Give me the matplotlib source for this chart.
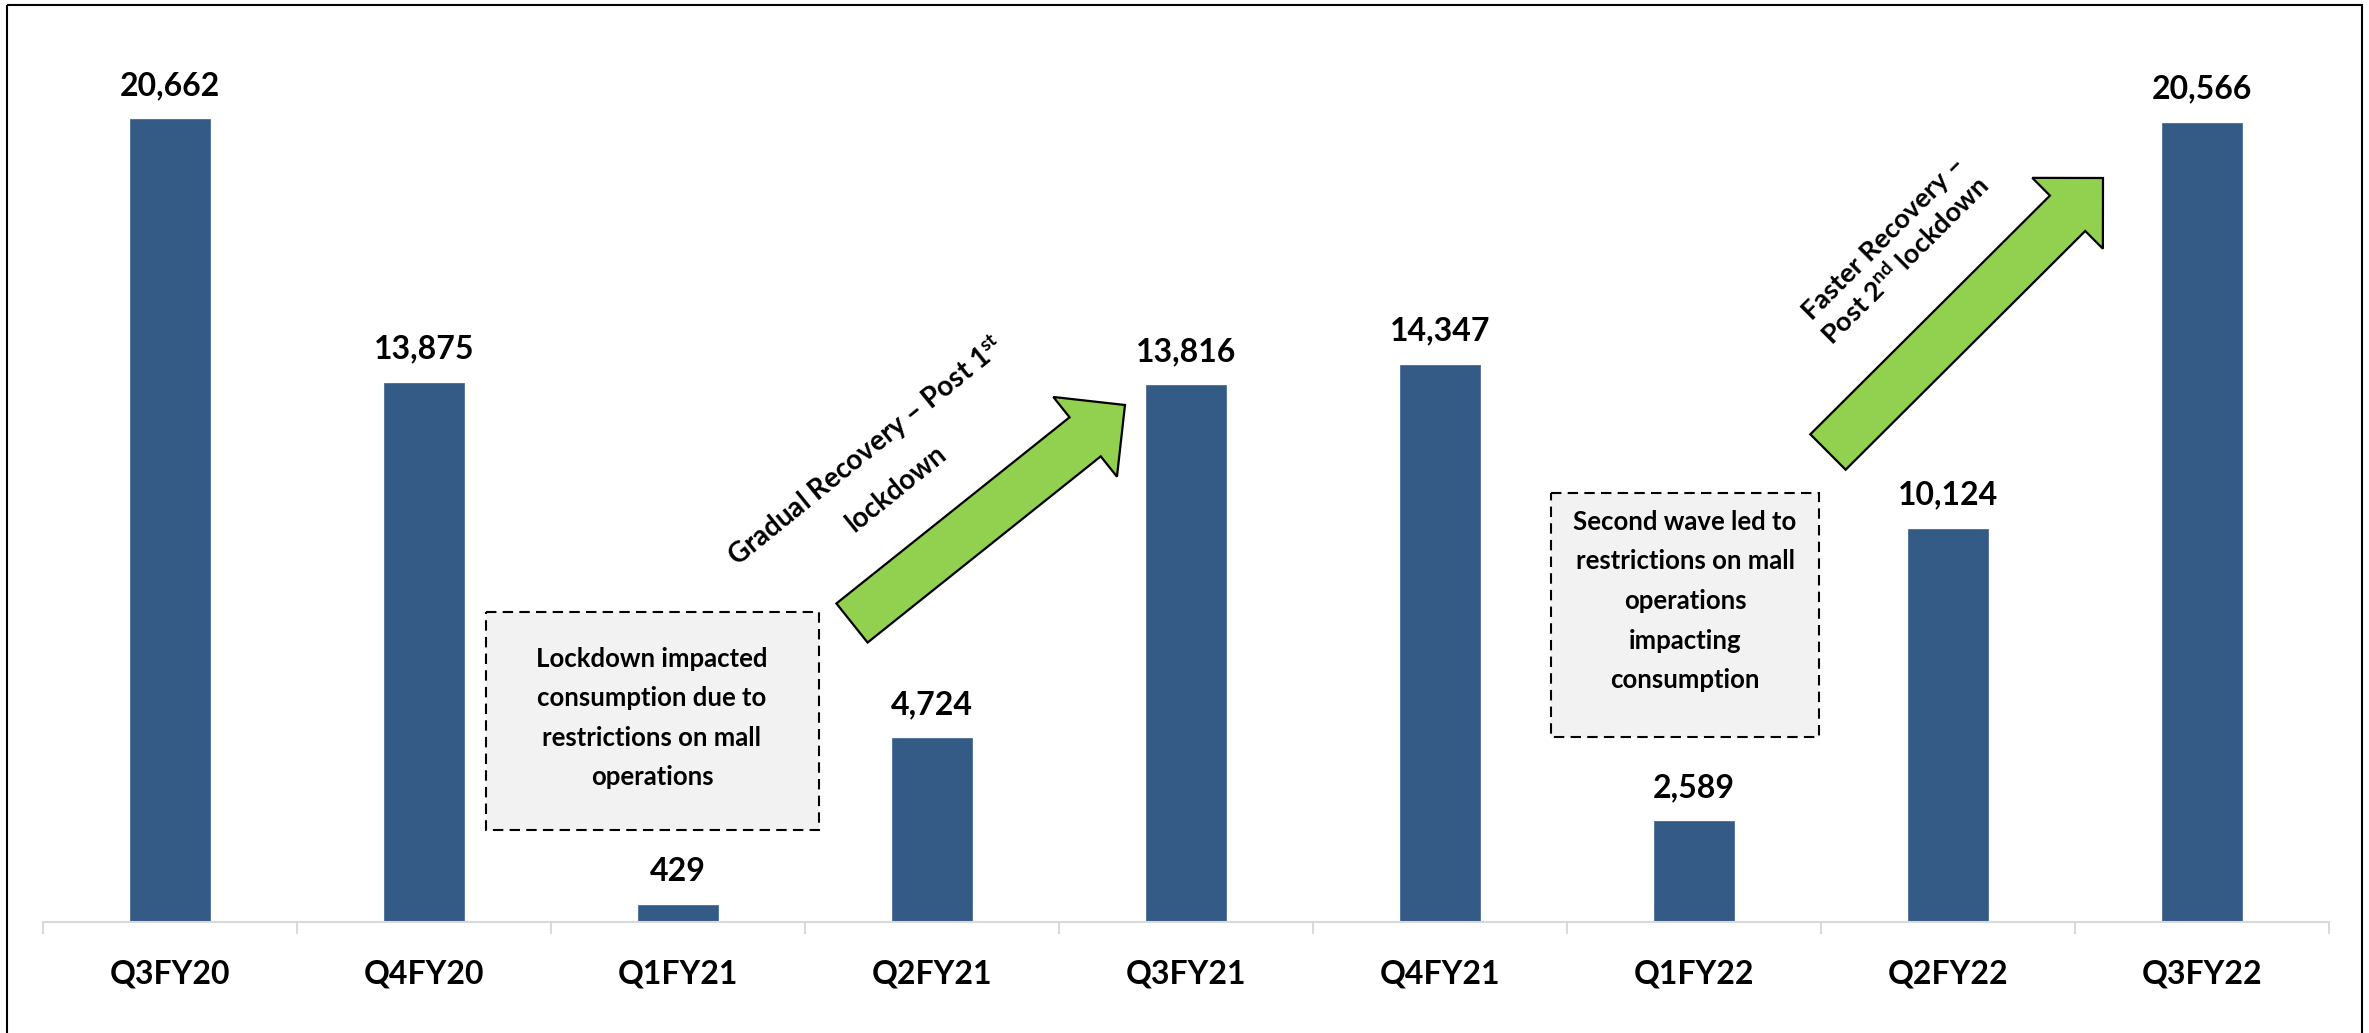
import matplotlib.pyplot as plt
from matplotlib.patches import FancyArrow, Rectangle
import numpy as np

plt.rcParams['font.family'] = ['Lato', 'DejaVu Sans']
plt.rcParams['font.weight'] = 'bold'
plt.rcParams['mathtext.fontset'] = 'custom'
plt.rcParams['mathtext.rm'] = 'Lato:bold'
plt.rcParams['mathtext.bf'] = 'Lato:bold'
plt.rcParams['mathtext.it'] = 'Lato:bold'
plt.rcParams['mathtext.default'] = 'bf'

quarters = ['Q3FY20', 'Q4FY20', 'Q1FY21', 'Q2FY21', 'Q3FY21',
            'Q4FY21', 'Q1FY22', 'Q2FY22', 'Q3FY22']
consumption = [20662, 13875, 429, 4724, 13816, 14347, 2589, 10124, 20566]

W, H = 2369, 1033
fig = plt.figure(figsize=(W / 100, H / 100), dpi=100)

# main bar axes (pixel positions)
ax = fig.add_axes([43 / W, (H - 922) / H, 2286 / W, 917 / H])
x = np.arange(len(quarters))
bars = ax.bar(x, consumption, width=0.315, color='#345a86', edgecolor='#4a6e98', linewidth=0.6)
ax.bar_label(bars, labels=[f"{v:,}" for v in consumption], padding=14,
             fontsize=23, fontweight='bold')

ax.set_xlim(-0.5, len(quarters) - 0.5)
ax.set_ylim(0, 23604)
ax.set_xticks(x)
ax.set_xticklabels(quarters, fontsize=23, fontweight='bold')
ax.set_xticks(np.arange(-0.5, len(quarters)), minor=True)
ax.tick_params(axis='x', which='major', length=0, pad=27)
ax.tick_params(axis='x', which='minor', length=8.5, width=1.5, color='#d9d9d9')
ax.set_yticks([])
for s in ['top', 'right', 'left']:
    ax.spines[s].set_visible(False)
ax.spines['bottom'].set_color('#d9d9d9')
ax.spines['bottom'].set_linewidth(1.5)

# overlay in pixel coordinates for the annotations
ov = fig.add_axes([0, 0, 1, 1], facecolor='none')
ov.set_xlim(0, W)
ov.set_ylim(H, 0)
ov.axis('off')

ov.add_patch(Rectangle((7, 5), 2355, 1100, fill=False, ec='black', lw=1.5))

green = '#92d050'
ov.add_patch(FancyArrow(852, 623, 273, -218, width=50, head_width=102, head_length=51,
                        length_includes_head=True, fc=green, ec='black', lw=1.6))
ov.add_patch(FancyArrow(1828, 452, 275, -274, width=50, head_width=100, head_length=50,
                        length_includes_head=True, fc=green, ec='black', lw=1.6))

ov.text(880, 468, 'Gradual Recovery – Post 1$^{st}$\nlockdown', rotation=39,
        rotation_mode='anchor', ha='center', va='center', fontsize=20,
        fontweight='bold', linespacing=1.9, multialignment='center')
ov.text(1895, 250, 'Faster Recovery –\nPost 2$^{nd}$ lockdown', rotation=45,
        rotation_mode='anchor', ha='center', va='center', fontsize=19.5,
        fontweight='bold', linespacing=1.2, multialignment='center')

ov.add_patch(Rectangle((486, 612), 333, 218, fc='#f2f2f2', ec='black', lw=1.5,
                       ls=(0, (5, 3))))
ov.text(652, 718, 'Lockdown impacted\nconsumption due to\nrestrictions on mall\noperations',
        ha='center', va='center', fontsize=18.5, fontweight='bold', linespacing=1.78)

ov.add_patch(Rectangle((1551, 493), 268, 244, fc='#f2f2f2', ec='black', lw=1.5,
                       ls=(0, (5, 3))))
ov.text(1685, 601, 'Second wave led to\nrestrictions on mall\noperations\nimpacting\nconsumption',
        ha='center', va='center', fontsize=18.5, fontweight='bold', linespacing=1.78)

fig.savefig('out.png', dpi=100)
